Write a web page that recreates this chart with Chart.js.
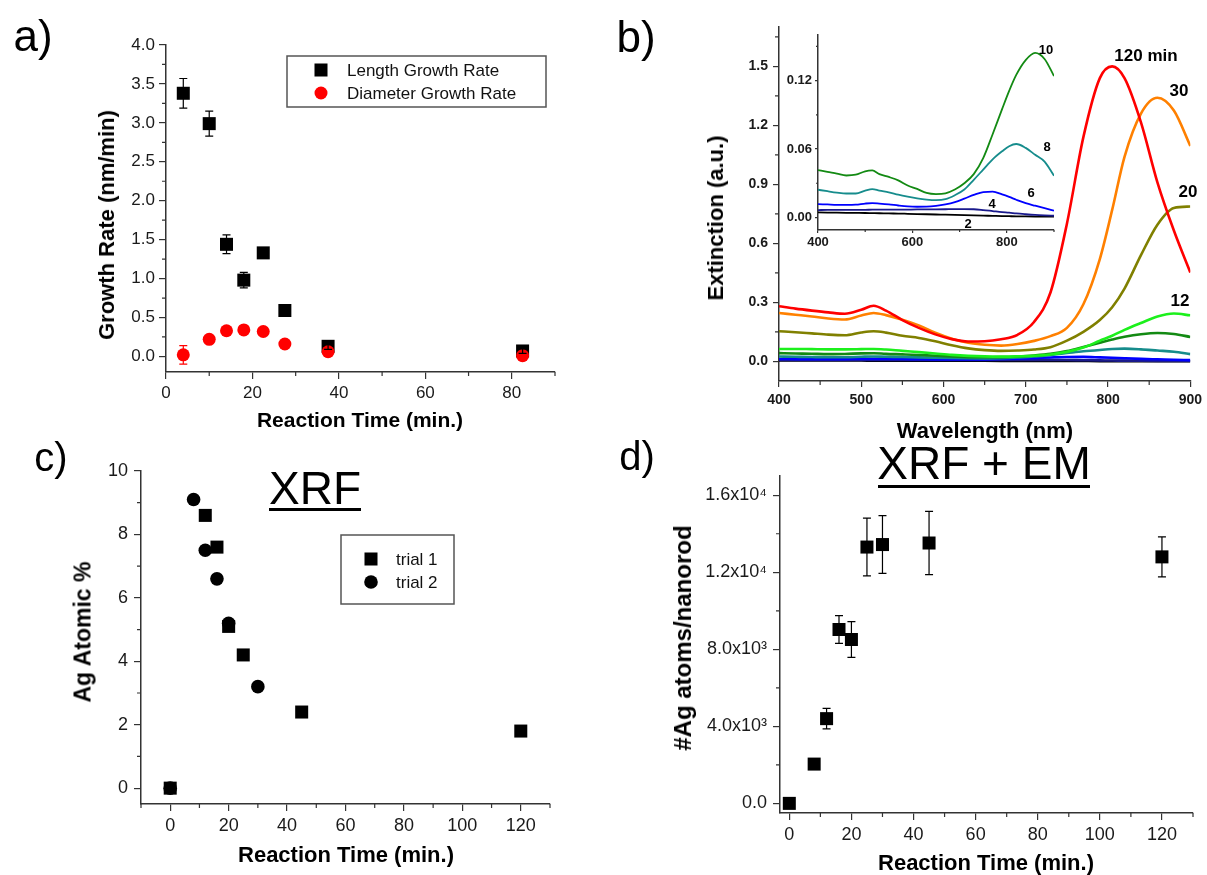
<!DOCTYPE html>
<html lang="en">
<head>
<meta charset="UTF-8">
<title>Ag growth on Au nanorods</title>
<script src="https://cdn.jsdelivr.net/npm/chart.js"></script>
<style>
  body { margin: 0; background: #fff; }
  #figure { position: relative; width: 1207px; height: 875px; overflow: hidden; background: #fff;
            font-family: 'Liberation Sans', Arial, sans-serif; color: #000; }
  #figure canvas { position: absolute; }
  .txt { position: absolute; white-space: nowrap; line-height: 1; transform: translate(-50%, -50%); }
  .vert { transform: translate(-50%, -50%) rotate(-90deg); }
  .b { font-weight: bold; }
  .rule { position: absolute; background: #000; height: 3px; }
</style>
</head>
<body>
<div id="figure">
  <canvas id="chartA" width="600" height="440" style="left:0;top:0;width:600px;height:440px"></canvas>
  <canvas id="chartB" width="607" height="440" style="left:600px;top:0;width:607px;height:440px"></canvas>
  <canvas id="chartInset" width="310" height="240" style="left:760px;top:20px;width:310px;height:240px"></canvas>
  <canvas id="chartC" width="580" height="435" style="left:0;top:440px;width:580px;height:435px"></canvas>
  <canvas id="chartD" width="607" height="435" style="left:600px;top:440px;width:607px;height:435px"></canvas>

  <div class="txt" style="left:33px;top:36px;font-size:44px">a)</div>
  <div class="txt" style="left:636px;top:37px;font-size:44px">b)</div>
  <div class="txt" style="left:51px;top:457px;font-size:40px">c)</div>
  <div class="txt" style="left:637px;top:456px;font-size:40px">d)</div>

  <div class="txt b vert" style="left:107px;top:225px;font-size:22px">Growth Rate (nm/min)</div>
  <div class="txt b" style="left:360px;top:419px;font-size:21px">Reaction Time (min.)</div>

  <div class="txt b vert" style="left:716px;top:218px;font-size:22px">Extinction (a.u.)</div>
  <div class="txt b" style="left:985px;top:431px;font-size:22px">Wavelength (nm)</div>
  <div class="txt b" style="left:1146px;top:55px;font-size:17px">120 min</div>
  <div class="txt b" style="left:1179px;top:90px;font-size:17px">30</div>
  <div class="txt b" style="left:1188px;top:191px;font-size:17px">20</div>
  <div class="txt b" style="left:1180px;top:300px;font-size:17px">12</div>
  <div class="txt b" style="left:1046px;top:49px;font-size:13px">10</div>
  <div class="txt b" style="left:1047px;top:146px;font-size:13px">8</div>
  <div class="txt b" style="left:1031px;top:192px;font-size:13px">6</div>
  <div class="txt b" style="left:992px;top:203px;font-size:13px">4</div>
  <div class="txt b" style="left:968px;top:223px;font-size:13px">2</div>

  <div class="txt" style="left:315px;top:488px;font-size:46px">XRF</div>
  <div class="rule" style="left:269px;top:508px;width:92px"></div>
  <div class="txt b vert" style="left:83px;top:632px;font-size:23px">Ag Atomic %</div>
  <div class="txt b" style="left:346px;top:855px;font-size:22px">Reaction Time (min.)</div>

  <div class="txt" style="left:984px;top:463px;font-size:46px">XRF + EM</div>
  <div class="rule" style="left:878px;top:485px;width:212px"></div>
  <div class="txt b vert" style="left:683px;top:638px;font-size:24px">#Ag atoms/nanorod</div>
  <div class="txt b" style="left:986px;top:863px;font-size:22px">Reaction Time (min.)</div>
</div>

<script>
// (a) growth rates vs reaction time
const aTime = [4, 10, 14, 18, 22.5, 27.5, 37.5, 82.5];
const aLength = [3.38, 2.99, 1.44, 0.98, 1.33, 0.59, 0.13, 0.07];
const aLengthErr = [0.19, 0.16, 0.12, 0.10, 0.04, 0.04, 0.04, 0.03];
const aDiameter = [0.02, 0.22, 0.33, 0.34, 0.32, 0.16, 0.06, 0.01];
const aDiameterErr = [0.12, 0.03, 0.03, 0.03, 0.03, 0.03, 0.04, 0.03];
const aTicksX = [0, 20, 40, 60, 80];
const aMinorX = [10, 30, 50, 70, 90];
const aTicksY = [0, 0.5, 1, 1.5, 2, 2.5, 3, 3.5, 4];
const aMinorY = [0.25, 0.75, 1.25, 1.75, 2.25, 2.75, 3.25, 3.75];

// (b) extinction spectra, one array per reaction time (min)
const wavelength = [400, 420, 440, 460, 480, 500, 515, 530, 550, 570, 590, 610, 630, 650, 670,
                    690, 710, 730, 750, 770, 790, 805, 820, 840, 860, 880, 900];
const ext120 = [0.280, 0.268, 0.258, 0.249, 0.242, 0.262, 0.283, 0.258, 0.210, 0.170, 0.137, 0.113, 0.101, 0.102, 0.112,
                0.135, 0.200, 0.350, 0.700, 1.140, 1.440, 1.500, 1.440, 1.215, 0.910, 0.665, 0.452];
const ext30 = [0.246, 0.237, 0.228, 0.218, 0.213, 0.233, 0.246, 0.235, 0.212, 0.183, 0.145, 0.115, 0.094, 0.084, 0.080,
               0.088, 0.104, 0.128, 0.170, 0.290, 0.520, 0.770, 1.040, 1.260, 1.340, 1.275, 1.095];
const ext20 = [0.153, 0.148, 0.142, 0.136, 0.133, 0.147, 0.153, 0.146, 0.130, 0.119, 0.102, 0.082, 0.066, 0.057, 0.053,
               0.055, 0.060, 0.072, 0.105, 0.150, 0.210, 0.275, 0.370, 0.540, 0.695, 0.780, 0.787];
const ext12 = [0.063, 0.063, 0.062, 0.061, 0.061, 0.062, 0.063, 0.060, 0.053, 0.047, 0.040, 0.033, 0.028, 0.025, 0.024,
               0.025, 0.028, 0.035, 0.048, 0.070, 0.105, 0.130, 0.160, 0.195, 0.228, 0.243, 0.234];
const ext10 = [0.0416, 0.0400, 0.0385, 0.0368, 0.0375, 0.0405, 0.0412, 0.0380, 0.0355, 0.0325, 0.0280, 0.0250, 0.0215, 0.0205, 0.0212,
               0.0245, 0.0300, 0.0380, 0.0520, 0.0730, 0.0950, 0.1110, 0.1250, 0.1380, 0.1443, 0.1390, 0.1240];
const ext8 = [0.0243, 0.0230, 0.0218, 0.0210, 0.0210, 0.0235, 0.0249, 0.0235, 0.0220, 0.0200, 0.0183, 0.0168, 0.0157, 0.0152, 0.0160,
              0.0195, 0.0245, 0.0330, 0.0420, 0.0510, 0.0580, 0.0625, 0.0644, 0.0610, 0.0550, 0.0490, 0.0366];
const ext6 = [0.0117, 0.0114, 0.0111, 0.0110, 0.0112, 0.0122, 0.0126, 0.0122, 0.0115, 0.0105, 0.0097, 0.0094, 0.0095, 0.0102, 0.0115,
              0.0135, 0.0165, 0.0198, 0.0223, 0.0226, 0.0202, 0.0180, 0.0155, 0.0125, 0.0103, 0.0082, 0.0060];
const ext4 = [0.0065, 0.0066, 0.0066, 0.0067, 0.0067, 0.0067, 0.0068, 0.0068, 0.0068, 0.0068, 0.0069, 0.0070, 0.0070, 0.0071, 0.0072,
              0.0073, 0.0073, 0.0072, 0.0065, 0.0056, 0.0047, 0.0042, 0.0035, 0.0028, 0.0022, 0.0018, 0.0015];
const ext2 = [0.0044, 0.0043, 0.0042, 0.0041, 0.0040, 0.0039, 0.0038, 0.0037, 0.0035, 0.0034, 0.0032, 0.0030, 0.0028, 0.0026, 0.0024,
              0.0022, 0.0020, 0.0018, 0.0016, 0.0014, 0.0012, 0.0011, 0.0010, 0.0009, 0.0008, 0.0007, 0.0007];
const bTicksX = [400, 500, 600, 700, 800, 900];
const bMinorX = [450, 550, 650, 750, 850];
const bTicksY = [0, 0.3, 0.6, 0.9, 1.2, 1.5];
const bMinorY = [0.15, 0.45, 0.75, 1.05, 1.35, 1.65];
const insetTicksX = [400, 600, 800];
const insetMinorX = [500, 700, 900];
const insetTicksY = [0, 0.06, 0.12];
const insetMinorY = [0.03, 0.09, 0.15];

// (c) XRF silver content
const cTime1 = [0, 12, 16, 20, 25, 45, 120];
const cTrial1 = [0, 8.6, 7.6, 5.1, 4.2, 2.4, 1.8];
const cTime2 = [0, 8, 12, 16, 20, 30];
const cTrial2 = [0, 9.1, 7.5, 6.6, 5.2, 3.2];
const cTicksX = [0, 20, 40, 60, 80, 100, 120];
const cMinorX = [-10, 10, 30, 50, 70, 90, 110, 130];
const cTicksY = [0, 2, 4, 6, 8, 10];
const cMinorY = [1, 3, 5, 7, 9];

// (d) silver atoms per nanorod
const dTime = [0, 8, 12, 16, 20, 25, 30, 45, 120];
const dAtoms = [0, 2040, 4400, 9030, 8510, 13310, 13440, 13520, 12800];
const dAtomsErr = [0, 0, 530, 720, 930, 1500, 1500, 1640, 1040];
const dTicksX = [0, 20, 40, 60, 80, 100, 120];
const dMinorX = [10, 30, 50, 70, 90, 110, 130];
const dTicksY = [0, 4000, 8000, 12000, 16000];
const dTickLabelsY = ['0.0', '4.0x10\u00B3', '8.0x10\u00B3', '1.2x10\u2074', '1.6x10\u2074'];
const dMinorY = [2000, 6000, 10000, 14000];

const FONT = "'Liberation Sans', Arial, sans-serif";
const AXIS = '#333';
Chart.defaults.font.family = FONT;
Chart.defaults.animation = false;

const pts = (xs, ys) => xs.map((x, i) => ({ x: x, y: ys[i] }));

// short minor ticks, outside the axes
const minorTicks = {
  id: 'minorTicks',
  afterDraw(chart, args, opts) {
    const ctx = chart.ctx, xs = chart.scales.x, ys = chart.scales.y;
    ctx.save();
    ctx.strokeStyle = AXIS;
    ctx.lineWidth = 1.2;
    ctx.beginPath();
    (opts.x || []).forEach(v => {
      const px = xs.getPixelForValue(v);
      ctx.moveTo(px, xs.top);
      ctx.lineTo(px, xs.top + opts.len);
    });
    (opts.y || []).forEach(v => {
      const py = ys.getPixelForValue(v);
      ctx.moveTo(ys.right, py);
      ctx.lineTo(ys.right - opts.len, py);
    });
    ctx.stroke();
    ctx.restore();
  }
};

// vertical error bars with caps, from dataset.errorBars
const errorBars = {
  id: 'errorBars',
  afterDatasetsDraw(chart, args, opts) {
    const ctx = chart.ctx, ys = chart.scales.y;
    chart.data.datasets.forEach((ds, i) => {
      if (!ds.errorBars) return;
      const meta = chart.getDatasetMeta(i);
      ctx.save();
      ctx.strokeStyle = ds.errorColor || '#000';
      ctx.lineWidth = 1.2;
      meta.data.forEach((pt, j) => {
        const e = ds.errorBars[j];
        if (!e) return;
        const v = ds.data[j].y;
        const top = ys.getPixelForValue(v + e), bot = ys.getPixelForValue(v - e);
        ctx.beginPath();
        ctx.moveTo(pt.x, top); ctx.lineTo(pt.x, bot);
        ctx.moveTo(pt.x - opts.cap, top); ctx.lineTo(pt.x + opts.cap, top);
        ctx.moveTo(pt.x - opts.cap, bot); ctx.lineTo(pt.x + opts.cap, bot);
        ctx.stroke();
      });
      ctx.restore();
    });
  }
};

// framed legend placed inside the plot
const boxLegend = {
  id: 'boxLegend',
  afterDraw(chart, args, opts) {
    if (!opts.box) return;
    const ctx = chart.ctx;
    const [bx, by, bw, bh] = opts.box;
    ctx.save();
    ctx.strokeStyle = '#555';
    ctx.lineWidth = 1.5;
    ctx.strokeRect(bx, by, bw, bh);
    ctx.font = opts.font;
    ctx.textBaseline = 'middle';
    opts.order.forEach((di, k) => {
      const ds = chart.data.datasets[di];
      const y = opts.rowY[k];
      ctx.fillStyle = ds.backgroundColor;
      if (ds.pointStyle === 'rect') {
        const s = ds.pointRadius * Math.SQRT1_2;
        ctx.fillRect(opts.markX - s, y - s, 2 * s, 2 * s);
      } else {
        ctx.beginPath();
        ctx.arc(opts.markX, y, ds.pointRadius, 0, 2 * Math.PI);
        ctx.fill();
      }
      ctx.fillStyle = '#111';
      ctx.fillText(ds.label, opts.textX, y + 1);
    });
    ctx.restore();
  }
};

function axis(o) {
  return {
    type: 'linear',
    position: o.position,
    min: o.min,
    max: o.max,
    afterBuildTicks: s => { s.ticks = o.ticks.map(v => ({ value: v })); },
    afterFit: s => { if (o.position === 'left') s.width = o.size; else s.height = o.size; },
    border: { display: true, color: AXIS, width: 1.5 },
    grid: { drawOnChartArea: false, drawTicks: true, tickLength: o.tickLen, color: AXIS, lineWidth: 1.2 },
    ticks: {
      callback: o.label,
      font: o.font,
      color: '#1a1a1a',
      padding: o.pad,
      autoSkip: false,
      maxRotation: 0,
      minRotation: 0
    }
  };
}

function baseOptions(pad, scales, plugins) {
  return {
    responsive: false,
    animation: false,
    layout: { padding: { top: pad.top, right: pad.right, left: 0, bottom: 0 } },
    scales: scales,
    plugins: Object.assign({ legend: { display: false }, tooltip: { enabled: false } }, plugins)
  };
}

const plainFont = { size: 17 };
const boldFont = { size: 14, weight: 'bold' };

// (a)
new Chart(document.getElementById('chartA'), {
  type: 'scatter',
  data: {
    datasets: [
      { label: 'Diameter Growth Rate', data: pts(aTime, aDiameter), errorBars: aDiameterErr, errorColor: '#ff0000',
        pointStyle: 'circle', pointRadius: 6.5, backgroundColor: '#ff0000', borderColor: '#ff0000', borderWidth: 0 },
      { label: 'Length Growth Rate', data: pts(aTime, aLength), errorBars: aLengthErr, errorColor: '#000',
        pointStyle: 'rect', pointRadius: 9.2, backgroundColor: '#000', borderColor: '#000', borderWidth: 0 }
    ]
  },
  options: baseOptions({ top: 45, right: 45 }, {
    x: axis({ position: 'bottom', min: 0, max: 90, ticks: aTicksX, size: 68, tickLen: 7, pad: 4,
              font: plainFont, label: v => String(v) }),
    y: axis({ position: 'left', min: -0.2, max: 4, ticks: aTicksY, size: 166, tickLen: 7, pad: 4,
              font: plainFont, label: v => v.toFixed(1) })
  }, {
    minorTicks: { x: aMinorX, y: aMinorY, len: 4 },
    errorBars: { cap: 4 },
    boxLegend: { box: [287, 56, 259, 51], order: [1, 0], rowY: [70, 93], markX: 321, textX: 347,
                 font: "17px " + FONT }
  }),
  plugins: [minorTicks, errorBars, boxLegend]
});

// (b) spectra; first dataset is drawn on top
const spectra = [
  { label: '120', values: ext120, color: '#ff0000' },
  { label: '30', values: ext30, color: '#ff8000' },
  { label: '20', values: ext20, color: '#808000' },
  { label: '12', values: ext12, color: '#1cf01c' },
  { label: '10', values: ext10, color: '#138a13' },
  { label: '8', values: ext8, color: '#168c8c' },
  { label: '6', values: ext6, color: '#0000ff' },
  { label: '4', values: ext4, color: '#1a1a8c' },
  { label: '2', values: ext2, color: '#000000' }
];

function spectrumSets(width, subset) {
  return spectra.filter(s => subset.indexOf(s.label) >= 0).map(s => ({
    label: s.label,
    data: pts(wavelength, s.values),
    showLine: true,
    borderColor: s.color,
    backgroundColor: s.color,
    borderWidth: width,
    pointRadius: 0,
    cubicInterpolationMode: 'monotone'
  }));
}

new Chart(document.getElementById('chartB'), {
  type: 'scatter',
  data: { datasets: spectrumSets(2.6, ['120', '30', '20', '12', '10', '8', '6', '4', '2']) },
  options: baseOptions({ top: 27, right: 15 }, {
    x: axis({ position: 'bottom', min: 400, max: 900, ticks: bTicksX, size: 59, tickLen: 6, pad: 5,
              font: boldFont, label: v => String(v) }),
    y: axis({ position: 'left', min: -0.1, max: 1.7, ticks: bTicksY, size: 179, tickLen: 6, pad: 5,
              font: boldFont, label: v => v.toFixed(1) })
  }, { minorTicks: { x: bMinorX, y: bMinorY, len: 4 } }),
  plugins: [minorTicks]
});

new Chart(document.getElementById('chartInset'), {
  type: 'scatter',
  data: { datasets: spectrumSets(1.8, ['10', '8', '6', '4', '2']) },
  options: baseOptions({ top: 15, right: 16 }, {
    x: axis({ position: 'bottom', min: 400, max: 900, ticks: insetTicksX, size: 30, tickLen: 3, pad: 2,
              font: { size: 13, weight: 'bold' }, label: v => String(v) }),
    y: axis({ position: 'left', min: -0.011, max: 0.16, ticks: insetTicksY, size: 58, tickLen: 3, pad: 3,
              font: { size: 13, weight: 'bold' }, label: v => v.toFixed(2) })
  }, { minorTicks: { x: insetMinorX, y: insetMinorY, len: 2 } }),
  plugins: [minorTicks]
});

// (c)
new Chart(document.getElementById('chartC'), {
  type: 'scatter',
  data: {
    datasets: [
      { label: 'trial 2', data: pts(cTime2, cTrial2), pointStyle: 'circle', pointRadius: 6.8,
        backgroundColor: '#000', borderColor: '#000', borderWidth: 0 },
      { label: 'trial 1', data: pts(cTime1, cTrial1), pointStyle: 'rect', pointRadius: 9.2,
        backgroundColor: '#000', borderColor: '#000', borderWidth: 0 }
    ]
  },
  options: baseOptions({ top: 31, right: 30 }, {
    x: axis({ position: 'bottom', min: -10, max: 130, ticks: cTicksX, size: 71, tickLen: 7, pad: 4,
              font: { size: 18 }, label: v => String(v) }),
    y: axis({ position: 'left', min: -0.5, max: 10, ticks: cTicksY, size: 141, tickLen: 7, pad: 6,
              font: { size: 18 }, label: v => String(v) })
  }, {
    minorTicks: { x: cMinorX, y: cMinorY, len: 4 },
    boxLegend: { box: [341, 95, 113, 69], order: [1, 0], rowY: [119, 142], markX: 371, textX: 396,
                 font: "17px " + FONT }
  }),
  plugins: [minorTicks, boxLegend]
});

// (d)
new Chart(document.getElementById('chartD'), {
  type: 'scatter',
  data: {
    datasets: [
      { label: '#Ag atoms/nanorod', data: pts(dTime, dAtoms), errorBars: dAtomsErr, errorColor: '#000',
        pointStyle: 'rect', pointRadius: 9.2, backgroundColor: '#000', borderColor: '#000', borderWidth: 0 }
    ]
  },
  options: baseOptions({ top: 36, right: 14 }, {
    x: axis({ position: 'bottom', min: -3, max: 130, ticks: dTicksX, size: 62, tickLen: 7, pad: 4,
              font: { size: 18 }, label: v => String(v) }),
    y: axis({ position: 'left', min: -500, max: 17000, ticks: dTicksY, size: 180, tickLen: 7, pad: 6,
              font: { size: 18 }, label: (v, i) => dTickLabelsY[i] })
  }, {
    minorTicks: { x: dMinorX, y: dMinorY, len: 4 },
    errorBars: { cap: 4 }
  }),
  plugins: [minorTicks, errorBars]
});
</script>
</body>
</html>
